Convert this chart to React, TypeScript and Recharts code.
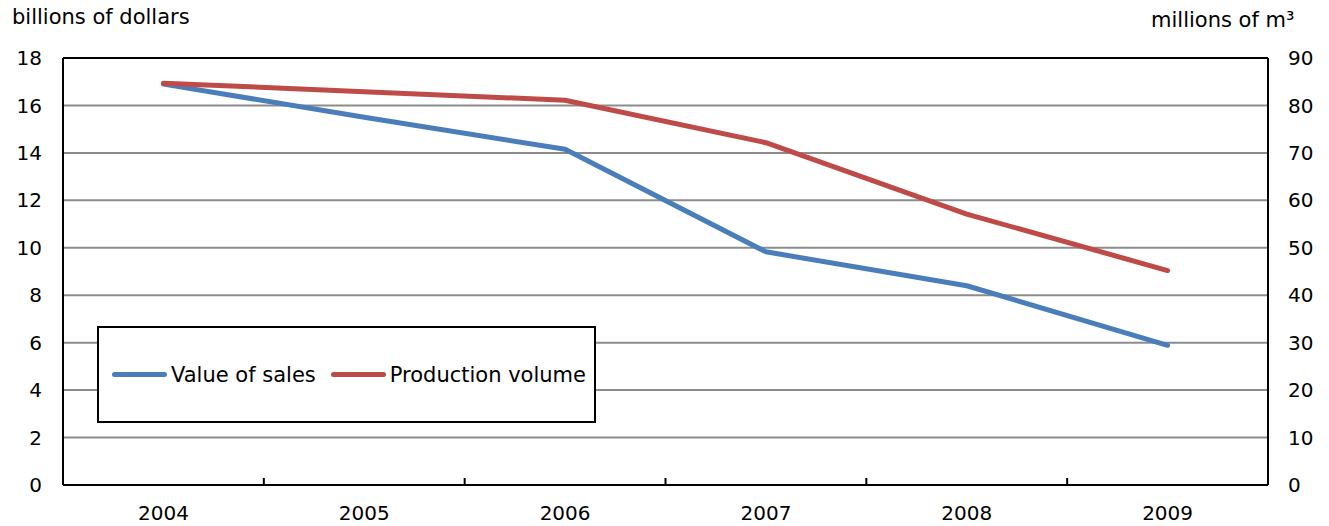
import React from 'react';
import { LineChart, Line, XAxis, YAxis, CartesianGrid, Legend, ReferenceLine } from 'recharts';

const years = ['2004', '2005', '2006', '2007', '2008', '2009'];
const valueOfSales = [16.9, 15.5, 14.15, 9.83, 8.4, 5.89]; // billions of dollars
const productionVolume = [84.7, 82.9, 81.1, 72.15, 57.1, 45.2]; // millions of m3
const leftTicks = [0, 2, 4, 6, 8, 10, 12, 14, 16, 18];
const rightTicks = [0, 10, 20, 30, 40, 50, 60, 70, 80, 90];

const data = years.map((year, i) => ({
  idx: i,
  year,
  sales: valueOfSales[i],
  volume: productionVolume[i],
}));

// ticks at each year (labels) and at every boundary between years (marks)
const xTicks = [-0.5, 0, 0.5, 1, 1.5, 2, 2.5, 3, 3.5, 4, 4.5, 5, 5.5];

const FONT = '"DejaVu Sans", Verdana, sans-serif';
const BLUE = '#4a7ebb';
const RED = '#be4b48';

const XTick = (props: any) => {
  const { x, y, payload } = props;
  const v = payload.value as number;
  if (Number.isInteger(v)) {
    return (
      <text x={x} y={y + 35} textAnchor="middle" fill="#000" fontSize={20} fontFamily={FONT}>
        {years[v]}
      </text>
    );
  }
  if (v <= -0.5 || v >= 5.5) return null;
  return <line x1={x} x2={x} y1={y} y2={y - 7} stroke="#000" strokeWidth={2} />;
};

const LegendBox = () => (
  <div
    style={{
      width: 499,
      height: 97,
      boxSizing: 'border-box',
      border: '2px solid #000',
      background: '#fff',
      display: 'flex',
      alignItems: 'center',
      paddingLeft: 13,
      fontFamily: FONT,
      fontSize: 21,
      color: '#000',
      whiteSpace: 'nowrap',
    }}
  >
    {[
      { name: 'Value of sales', color: BLUE },
      { name: 'Production volume', color: RED },
    ].map((item, i) => (
      <span key={item.name} style={{ display: 'flex', alignItems: 'center', marginLeft: i ? 15 : 0 }}>
        <span
          style={{
            display: 'inline-block',
            width: 55,
            height: 5,
            borderRadius: 3,
            background: item.color,
            marginRight: 4,
          }}
        />
        {item.name}
      </span>
    ))}
  </div>
);

export default function App() {
  return (
    <div style={{ position: 'relative', width: 1329, height: 526, background: '#fff' }}>
      <style>{'body { margin: 0; }'}</style>
      <div style={{ position: 'absolute', left: 12, top: 5, fontFamily: FONT, fontSize: 21, color: '#000' }}>
        billions of dollars
      </div>
      <div style={{ position: 'absolute', left: 1151, top: 8, fontFamily: FONT, fontSize: 21, color: '#000' }}>
        millions of m³
      </div>
      <LineChart width={1329} height={526} data={data} margin={{ top: 58, right: 0, bottom: 0, left: 0 }}>
        <CartesianGrid yAxisId="left" vertical={false} stroke="#8c8c8c" strokeWidth={2} />
        <XAxis
          dataKey="idx"
          type="number"
          domain={[-0.5, 5.5]}
          ticks={xTicks}
          interval={0}
          height={41}
          tickSize={0}
          tickMargin={0}
          tickLine={false}
          axisLine={{ stroke: '#000', strokeWidth: 2 }}
          tick={<XTick />}
        />
        <YAxis
          yAxisId="left"
          domain={[0, 18]}
          ticks={leftTicks}
          width={63}
          tickSize={0}
          tickMargin={21}
          tickLine={false}
          axisLine={{ stroke: '#000', strokeWidth: 2 }}
          tick={{ fill: '#000', fontSize: 20, fontFamily: FONT }}
        />
        <YAxis
          yAxisId="right"
          orientation="right"
          domain={[0, 90]}
          ticks={rightTicks}
          width={61}
          tickSize={0}
          tickMargin={20}
          tickLine={false}
          axisLine={{ stroke: '#000', strokeWidth: 2 }}
          tick={{ fill: '#000', fontSize: 20, fontFamily: FONT }}
        />
        <ReferenceLine yAxisId="left" y={18} stroke="#000" strokeWidth={2} />
        <Line
          yAxisId="left"
          type="linear"
          dataKey="sales"
          name="Value of sales"
          stroke={BLUE}
          strokeWidth={5}
          strokeLinecap="round"
          strokeLinejoin="round"
          dot={false}
          isAnimationActive={false}
        />
        <Line
          yAxisId="right"
          type="linear"
          dataKey="volume"
          name="Production volume"
          stroke={RED}
          strokeWidth={5}
          strokeLinecap="round"
          strokeLinejoin="round"
          dot={false}
          isAnimationActive={false}
        />
        <Legend
          layout="vertical"
          align="center"
          verticalAlign="middle"
          content={<LegendBox />}
          wrapperStyle={{ position: 'absolute', left: 97, top: 326, width: 499, height: 97 }}
        />
      </LineChart>
    </div>
  );
}
